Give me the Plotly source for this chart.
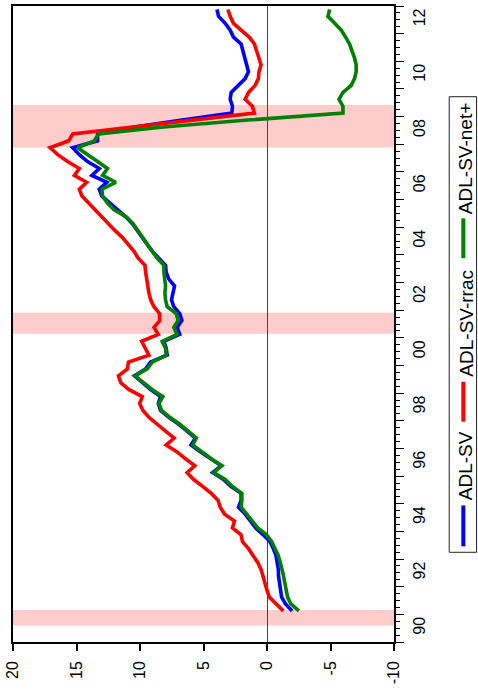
import numpy as np
import plotly.graph_objects as go

# ---------------- data ----------------
quarters = [round(v, 3) for v in np.arange(1991.125, 2013.0, 0.25)]

adl_sv = [
    -1.98, -1.46, -1.15, -1.05,
    -0.97, -0.91, -0.89, -0.81,
    -0.71, -0.50, -0.24, 0.29,
    0.89, 1.31, 1.72, 2.25,
    2.04, 2.04, 2.85, 3.42,
    4.28, 3.60, 4.46, 5.25,
    5.98, 5.64, 6.29, 6.95,
    7.73, 8.38, 8.56, 8.38,
    9.16, 9.82, 10.44, 9.56,
    9.16, 7.86, 7.94, 8.12,
    6.87, 7.08, 6.70, 6.87,
    7.34, 7.52, 7.42, 7.28,
    7.73, 7.94, 7.99, 8.51,
    9.03, 9.43, 9.82, 10.21,
    10.60, 11.12, 11.78, 12.43,
    13.00, 13.21, 12.61, 13.79,
    13.21, 14.13, 14.78, 15.30,
    13.34, 13.34, 10.44, 6.68,
    2.77, 2.72, 2.90, 2.82,
    2.25, 1.72, 1.46, 1.59,
    1.72, 1.85, 2.04, 2.64,
    2.90, 3.29, 3.81, 3.94,
]

adl_sv_rrac = [
    -1.28, -0.70, -0.18, 0.00,
    0.18, 0.31, 0.47, 0.73,
    1.07, 1.46, 1.93, 2.04,
    2.72, 2.56, 3.34, 3.68,
    3.86, 4.39, 5.07, 5.77,
    6.29, 5.69, 6.42, 7.08,
    7.94, 7.31, 7.99, 8.64,
    9.30, 9.77, 10.03, 9.82,
    10.86, 11.51, 11.70, 10.99,
    10.91, 9.30, 9.61, 9.87,
    8.56, 8.90, 8.45, 8.46,
    8.90, 9.16, 9.30, 9.40,
    9.50, 9.56, 9.61, 10.13,
    10.47, 10.91, 11.38, 11.96,
    12.48, 13.08, 13.60, 14.13,
    14.57, 14.78, 14.20, 15.17,
    14.78, 15.70, 16.48, 17.08,
    15.61, 15.30, 10.34, 5.54,
    0.99, 1.15, 1.72, 1.46,
    0.94, 0.68, 0.63, 0.47,
    0.63, 0.81, 0.99, 1.41,
    1.98, 2.64, 2.90, 3.08,
]

adl_sv_net = [
    -2.51, -1.88, -1.62, -1.49,
    -1.41, -1.31, -1.20, -1.05,
    -0.89, -0.63, -0.37, 0.03,
    0.73, 1.15, 1.59, 2.04,
    1.98, 1.98, 2.72, 3.29,
    4.20, 3.55, 4.39, 5.17,
    5.85, 5.56, 6.21, 6.87,
    7.65, 8.30, 8.51, 8.20,
    9.03, 9.74, 10.39, 9.43,
    9.03, 7.94, 7.99, 8.25,
    7.08, 7.34, 7.00, 7.15,
    7.86, 7.99, 8.04, 7.99,
    8.07, 8.12, 8.12, 8.64,
    9.03, 9.43, 9.82, 10.16,
    10.55, 11.07, 12.04, 12.56,
    12.95, 13.00, 11.91, 12.95,
    12.56, 13.34, 14.13, 14.91,
    13.60, 13.26, 8.15, 1.54,
    -5.98, -5.98, -5.67, -5.98,
    -6.63, -6.89, -7.02, -7.02,
    -6.89, -6.68, -6.50, -6.19,
    -5.85, -5.33, -4.80, -4.93,
]

series_names = ["ADL-SV", "ADL-SV-rrac", "ADL-SV-net+"]
series_colors = ["#0000ff", "#ff0000", "#008000"]

recessions = [(1990.6, 1991.16), (2001.15, 2001.91), (2007.88, 2009.42)]

value_ticks = [20, 15, 10, 5, 0, -5, -10]
year_ticks = list(range(1990, 2014))
label_years = [1990.5, 1992.5, 1994.5, 1996.5, 1998.5, 2000.5,
               2002.5, 2004.5, 2006.5, 2008.5, 2010.5, 2012.5]
label_text = ["90", "92", "94", "96", "98", "00",
              "02", "04", "06", "08", "10", "12"]

# ---------------- layout geometry ----------------
W, H = 478, 692
L, R, T, B = 11, 394, 4, 642  # plot area in pixels


def px_x(p):
    return (p - L) / (R - L)


def px_y(p):
    return (B - p) / (B - T)


FONT = "Liberation Sans, Arial, sans-serif"

fig = go.Figure()

series = [adl_sv, adl_sv_rrac, adl_sv_net]
for name, vals, col in zip(series_names, series, series_colors):
    fig.add_trace(go.Scatter(
        x=vals, y=quarters, mode="lines", name=name,
        line=dict(color=col, width=3.6), showlegend=False,
    ))

# invisible trace to carry the label axis
fig.add_trace(go.Scatter(x=[0], y=[2000], yaxis="y2", mode="markers",
                         marker=dict(opacity=0), showlegend=False,
                         hoverinfo="skip"))

shapes = []
for (a, b) in recessions:
    shapes.append(dict(type="rect", xref="paper", yref="y", x0=0, x1=1,
                       y0=a, y1=b, fillcolor="#ffcccc", line=dict(width=0),
                       layer="below"))

# legend (rotated) built from shapes + annotations
shapes.append(dict(type="rect", xref="paper", yref="paper",
                   x0=px_x(449.5), x1=px_x(477), y0=px_y(552), y1=px_y(95),
                   line=dict(color="#222222", width=1), fillcolor="white",
                   layer="above"))
leg_lines = [(505, 546), (381, 421), (217, 257)]
leg_text_c = [465, 322, 157]
annotations = []
for (y0, y1), tc, name, col in zip(leg_lines, leg_text_c, series_names, series_colors):
    shapes.append(dict(type="line", xref="paper", yref="paper",
                       x0=px_x(463.7), x1=px_x(463.7), y0=px_y(y1), y1=px_y(y0),
                       line=dict(color=col, width=4), layer="above"))
    annotations.append(dict(xref="paper", yref="paper", x=px_x(466), y=px_y(tc),
                            text=name, showarrow=False, textangle=-90,
                            xanchor="center", yanchor="middle",
                            font=dict(family=FONT, size=19, color="black")))

fig.update_layout(
    width=W, height=H,
    margin=dict(l=L, r=W - R, t=T, b=H - B, pad=0),
    paper_bgcolor="white", plot_bgcolor="white",
    font=dict(family=FONT, size=16, color="black"),
    shapes=shapes, annotations=annotations,
    xaxis=dict(
        range=[20, -10], autorange=False,
        tickvals=value_ticks, ticktext=[str(v) for v in value_ticks],
        tickangle=-90, ticks="outside", ticklen=7, tickwidth=1.5,
        tickcolor="black", ticklabelstandoff=4,
        showline=True, mirror=True, linecolor="black", linewidth=1.5,
        showgrid=False,
        zeroline=True, zerolinecolor="#444444", zerolinewidth=1.2,
        tickfont=dict(size=16, color="black"),
    ),
    yaxis=dict(
        range=[1990, 2013], autorange=False, side="right",
        tickvals=year_ticks, showticklabels=False,
        ticks="outside", ticklen=8, tickwidth=1.2, tickcolor="black",
        minor=dict(dtick=0.25, tick0=1990, ticks="outside", ticklen=4,
                   tickwidth=1, tickcolor="black", showgrid=False),
        showline=True, mirror=True, linecolor="black", linewidth=1.5,
        showgrid=False, zeroline=False,
    ),
    yaxis2=dict(
        range=[1990, 2013], autorange=False, side="right", overlaying="y",
        tickvals=label_years, ticktext=label_text, tickangle=-90,
        ticks="", showline=False, showgrid=False, zeroline=False,
        ticklabelstandoff=14, tickfont=dict(size=16, color="black"),
    ),
)

fig.write_html("out.html")
